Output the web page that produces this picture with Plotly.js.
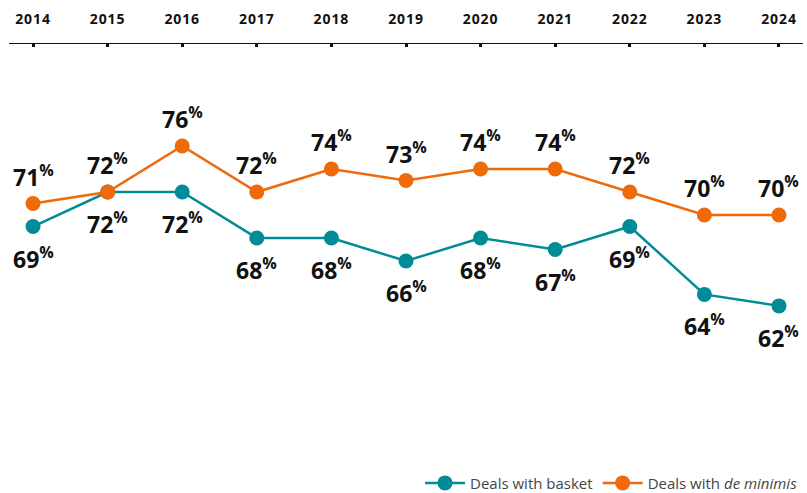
<!DOCTYPE html>
<html>
<head>
<meta charset="utf-8">
<script src="https://cdn.plot.ly/plotly-3.0.1.min.js"></script>
<style>
html,body{margin:0;padding:0;background:#fff;}
#chart{width:807px;height:493px;}
.xtick text{letter-spacing:0.9px;}
</style>
</head>
<body>
<div id="chart"></div>
<script>
const years = [2014, 2015, 2016, 2017, 2018, 2019, 2020, 2021, 2022, 2023, 2024];
const basket = [69, 72, 72, 68, 68, 66, 68, 67, 69, 63.1, 62.1];
const basketLabels = ["69", "72", "72", "68", "68", "66", "68", "67", "69", "64", "62"];
const deMinimis = [71, 72, 76, 72, 74, 73, 74, 74, 72, 70, 70];
const deMinimisLabels = ["71", "72", "76", "72", "74", "73", "74", "74", "72", "70", "70"];

const teal = "#008C96";
const orange = "#EE6A0A";
const labelFont = {family: "Open Sans, sans-serif", size: 23, color: "#111", weight: 700};

const traces = [
  {
    x: years, y: basket, name: "Deals with basket", type: "scatter", mode: "lines+markers",
    line: {color: teal, width: 2.5}, marker: {color: teal, size: 15}, cliponaxis: false
  },
  {
    x: years, y: deMinimis, name: "Deals with <i>de minimis</i>", type: "scatter", mode: "lines+markers",
    line: {color: orange, width: 2.5}, marker: {color: orange, size: 15}, cliponaxis: false
  }
];

const annotations = [];
years.forEach((yr, i) => {
  annotations.push({x: yr, y: basket[i], xref: "x", yref: "y", showarrow: false,
    text: "<b>" + basketLabels[i] + "<sup>%</sup></b>", font: labelFont,
    yanchor: "middle", xanchor: "center", yshift: -31});
  annotations.push({x: yr, y: deMinimis[i], xref: "x", yref: "y", showarrow: false,
    text: "<b>" + deMinimisLabels[i] + "<sup>%</sup></b>", font: labelFont,
    yanchor: "middle", xanchor: "center", yshift: 28});
});

const layout = {
  width: 807, height: 493,
  margin: {l: 9, r: 4, t: 44, b: 33, autoexpand: false},
  paper_bgcolor: "#fff", plot_bgcolor: "#fff",
  showlegend: true,
  annotations: annotations,
  legend: {orientation: "h", x: 1, xanchor: "right", yref: "container", y: 0.02, yanchor: "middle",
           font: {family: "Open Sans, sans-serif", size: 15, color: "#444"}, traceorder: "normal",
           itemwidth: 40},
  xaxis: {
    side: "top", range: [2013.678, 2024.322], tickvals: years, ticktext: years.map(String),
    showgrid: false, zeroline: false, showline: true, linecolor: "#111", linewidth: 1.5,
    ticks: "inside", ticklen: 3, tickwidth: 3, tickcolor: "#111",
    tickfont: {family: "Open Sans, sans-serif", size: 14, color: "#111", weight: 700},
    ticklabelstandoff: 13, fixedrange: true, automargin: false
  },
  yaxis: {range: [48.7, 84.87], visible: false, showgrid: false, zeroline: false, fixedrange: true}
};

Plotly.newPlot("chart", traces, layout, {displayModeBar: false, staticPlot: true});
</script>
</body>
</html>
